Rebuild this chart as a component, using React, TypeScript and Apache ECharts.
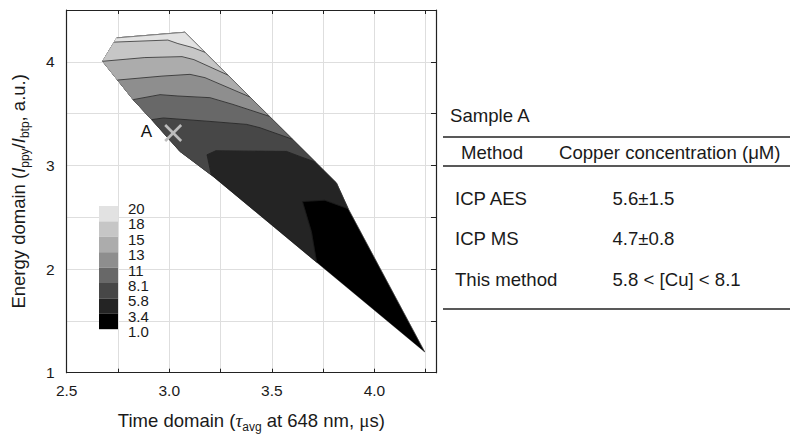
import React, { useEffect, useRef } from "react";
import * as echarts from "echarts";

// ---- axis ticks ----
const xMin = 2.5;
const xMax = 4.3;
const yMin = 1;
const yMax = 4.5;

// ---- outline vertices of the contour region [time domain, energy domain] ----
const P1 = [2.675, 4.005];
const P2 = [2.744, 4.231];
const P3 = [3.076, 4.285];
const P8 = [3.815, 2.83];
const P9 = [3.872, 2.582];
const P10 = [4.245, 1.2];
const P12 = [3.214, 2.894];
const P13 = [3.052, 3.135];
const P14 = [2.914, 3.442];
const P15 = [2.824, 3.635];

// ---- contour lines (level boundaries) ----
const contour18 = [[2.731, 4.19], [2.993, 4.21], [3.042, 4.176], [3.115, 4.137], [3.174, 4.092]];
const contour15 = [P1, [2.881, 4.041], [3.062, 4.05], [3.12, 4.021], [3.286, 3.872]];
const contour13 = [[2.748, 3.824], [2.964, 3.862], [3.101, 3.879], [3.174, 3.847], [3.393, 3.661]];
const contour11 = [P15, [2.955, 3.683], [3.042, 3.67], [3.198, 3.654], [3.31, 3.589], [3.488, 3.474]];
const contour81 = [P14, [2.971, 3.458], [3.198, 3.425], [3.377, 3.396], [3.442, 3.364], [3.6, 3.253]];
const contour58 = [[3.205, 2.907], [3.184, 3.103], [3.227, 3.142], [3.572, 3.135], [3.636, 3.087], [3.712, 3.033]];
const contour34 = [[3.718, 2.066], [3.693, 2.359], [3.649, 2.652], [3.758, 2.664], P9];

// ---- sample point ----
const sampleA = [3.019, 3.313];
const sampleLabel = "A";

// ---- legend ----
const levelLabels = ["20", "18", "15", "13", "11", "8.1", "5.8", "3.4", "1.0"];
const bandColors = ["#e2e2e2", "#c6c6c6", "#acacac", "#8e8e8e", "#686868", "#474747", "#242424", "#000000"];

// ---- table ----
const tableTitle = "Sample A";
const tableHeader = ["Method", "Copper concentration (μM)"];
const tableMethods = ["ICP AES", "ICP MS", "This method"];
const tableValues = ["5.6±1.5", "4.7±0.8", "5.8 < [Cu] < 8.1"];

// superlevel regions, drawn from lowest level (whole outline) to highest
const layers = [
  [P1, P2, P3, P8, P9, P10, P12, P13, P14, P15],
  [...contour34, P8, P3, P2, P1, P15, P14, P13, P12],
  [...contour58, P3, P2, P1, P15, P14, P13],
  [...contour81, P3, P2, P1, P15],
  [...contour11, P3, P2, P1],
  [...contour13, P3, P2, P1],
  [...contour15, P3, P2],
  [...contour18, P3, P2],
];
const layerColors = [...bandColors].reverse();
const contours = [contour18, contour15, contour13, contour11, contour81, contour58, contour34];
const outlineEdge = [P2, P3, P8, P9, P10];

const FONT = "'Liberation Sans', Arial, sans-serif";
const TXT = "#1a1a1a";

export default function App() {
  const ref = useRef<HTMLDivElement>(null);
  useEffect(() => {
    if (!ref.current) return;
    const chart = echarts.init(ref.current, undefined, { renderer: "svg" });

    const legendX = 99;
    const legendY = 206;
    const boxH = 15.4;
    const graphics: any[] = [];
    bandColors.forEach((c, i) => {
      graphics.push({
        type: "rect",
        shape: { x: legendX, y: legendY + boxH * i, width: 19, height: boxH },
        style: { fill: c },
        z: 10,
      });
    });
    levelLabels.forEach((t, i) => {
      graphics.push({
        type: "text",
        x: 128,
        y: legendY + boxH * i + 2.5,
        style: { text: t, font: `15px ${FONT}`, fill: TXT, verticalAlign: "middle", align: "left" },
        z: 10,
      });
    });

    // table
    const tf = `18.6px ${FONT}`;
    graphics.push({ type: "text", x: 450, y: 115, style: { text: tableTitle, font: tf, fill: TXT, verticalAlign: "middle" } });
    [137, 166, 309].forEach((yy) => {
      graphics.push({ type: "line", shape: { x1: 443, y1: yy, x2: 790, y2: yy }, style: { stroke: "#222", lineWidth: 1.6 } });
    });
    graphics.push({ type: "text", x: 461, y: 152, style: { text: tableHeader[0], font: tf, fill: TXT, verticalAlign: "middle" } });
    graphics.push({ type: "text", x: 559, y: 152, style: { text: tableHeader[1], font: tf, fill: TXT, verticalAlign: "middle" } });
    const rowY = [198.5, 238.5, 279.5];
    tableMethods.forEach((m, i) => {
      graphics.push({ type: "text", x: 455, y: rowY[i], style: { text: m, font: tf, fill: TXT, verticalAlign: "middle" } });
      graphics.push({ type: "text", x: 612.5, y: rowY[i], style: { text: tableValues[i], font: tf, fill: TXT, verticalAlign: "middle" } });
    });

    const axisLine = { show: true, onZero: false, lineStyle: { color: "#222", width: 1.2 } };
    const grid = { color: "#dedede", width: 1 };

    const option: any = {
      animation: false,
      backgroundColor: "#ffffff",
      grid: { left: 66.7, right: 364, top: 10, bottom: 73.3, containLabel: false },
      xAxis: [
        {
          type: "value",
          min: xMin,
          max: xMax,
          interval: 0.25,
          position: "bottom",
          axisLine,
          axisTick: { show: true, inside: true, length: 4, lineStyle: { color: "#222" } },
          splitLine: { show: true, lineStyle: grid },
          axisLabel: {
            fontSize: 15.5,
            fontFamily: FONT,
            color: TXT,
            margin: 10,
            showMaxLabel: false,
            formatter: (v: number) => (Math.abs(v * 2 - Math.round(v * 2)) < 1e-6 ? v.toFixed(1) : ""),
          },
          name: "{a|Time domain (}{t|τ}{s|avg}{a| at 648 nm, }{m|μ}{a|s)}",
          nameLocation: "middle",
          nameGap: 36,
          nameTextStyle: {
            rich: {
              a: { fontSize: 18.5, fontFamily: FONT, color: TXT },
              t: { fontSize: 19, fontFamily: "'Liberation Serif', serif", fontStyle: "italic", color: TXT },
              m: { fontSize: 19, fontFamily: "'Liberation Serif', serif", color: TXT },
              s: { fontSize: 12, fontFamily: FONT, color: TXT, padding: [12, 0, 0, 0] },
            },
          },
        },
        {
          type: "value",
          min: xMin,
          max: xMax,
          interval: 0.25,
          position: "top",
          axisLine,
          axisTick: { show: true, inside: true, length: 4, lineStyle: { color: "#222" } },
          splitLine: { show: false },
          axisLabel: { show: false },
        },
      ],
      yAxis: [
        {
          type: "value",
          min: yMin,
          max: yMax,
          interval: 0.5,
          position: "left",
          axisLine,
          axisTick: { show: false },
          splitLine: { show: true, lineStyle: grid },
          axisLabel: {
            fontSize: 15.5,
            fontFamily: FONT,
            color: TXT,
            margin: 12,
            showMaxLabel: false,
            formatter: (v: number) => (Math.abs(v - Math.round(v)) < 1e-6 ? String(Math.round(v)) : ""),
          },
          name: "{a|Energy domain (}{i|I}{s|ppy}{a|/}{i|I}{s|btp}{a|, a.u.)}",
          nameLocation: "middle",
          nameRotate: 90,
          nameGap: 36,
          nameTextStyle: {
            rich: {
              a: { fontSize: 18.5, fontFamily: FONT, color: TXT },
              i: { fontSize: 18.5, fontFamily: FONT, fontStyle: "italic", color: TXT },
              s: { fontSize: 12, fontFamily: FONT, color: TXT, padding: [12, 0, 0, 0] },
            },
          },
        },
        {
          type: "value",
          min: yMin,
          max: yMax,
          interval: 0.5,
          position: "right",
          axisLine,
          axisTick: { show: true, inside: true, length: 5, lineStyle: { color: "#222" } },
          splitLine: { show: false },
          axisLabel: { show: false },
        },
      ],
      graphic: graphics,
      series: [
        {
          type: "custom",
          name: "bands",
          xAxisIndex: 0,
          yAxisIndex: 0,
          silent: true,
          z: 2,
          data: layers.map((l, i) => [l[0][0], l[0][1], i]),
          renderItem: (params: any, api: any) => {
            const i = params.dataIndex;
            return {
              type: "polygon",
              shape: { points: layers[i].map((p) => api.coord(p)) },
              style: { fill: layerColors[i], stroke: layerColors[i], lineWidth: 0.4 },
            };
          },
        },
        ...contours.map((c) => ({
          type: "line",
          xAxisIndex: 0,
          yAxisIndex: 0,
          data: c,
          symbol: "none",
          silent: true,
          z: 3,
          lineStyle: { color: "#1a1a1a", width: 0.7 },
        })),
        {
          type: "line",
          xAxisIndex: 0,
          yAxisIndex: 0,
          data: outlineEdge,
          symbol: "none",
          silent: true,
          z: 3,
          lineStyle: { color: "#444", width: 0.6 },
        },
        {
          type: "custom",
          name: "sample",
          xAxisIndex: 0,
          yAxisIndex: 0,
          silent: true,
          z: 5,
          data: [sampleA],
          renderItem: (params: any, api: any) => {
            const c = api.coord([api.value(0), api.value(1)]);
            const h = 8;
            return {
              type: "group",
              children: [
                { type: "line", shape: { x1: c[0] - h, y1: c[1] - h, x2: c[0] + h, y2: c[1] + h }, style: { stroke: "#bdbdbd", lineWidth: 2.6 } },
                { type: "line", shape: { x1: c[0] - h, y1: c[1] + h, x2: c[0] + h, y2: c[1] - h }, style: { stroke: "#bdbdbd", lineWidth: 2.6 } },
                {
                  type: "text",
                  x: c[0] - 21,
                  y: c[1] - 2,
                  style: { text: sampleLabel, font: `17px ${FONT}`, fill: "#111", align: "right", verticalAlign: "middle" },
                },
              ],
            };
          },
        },
      ],
    };
    chart.setOption(option);
    return () => chart.dispose();
  }, []);
  return <div ref={ref} style={{ position: "absolute", left: 0, top: 0, width: 800, height: 446 }} />;
}
